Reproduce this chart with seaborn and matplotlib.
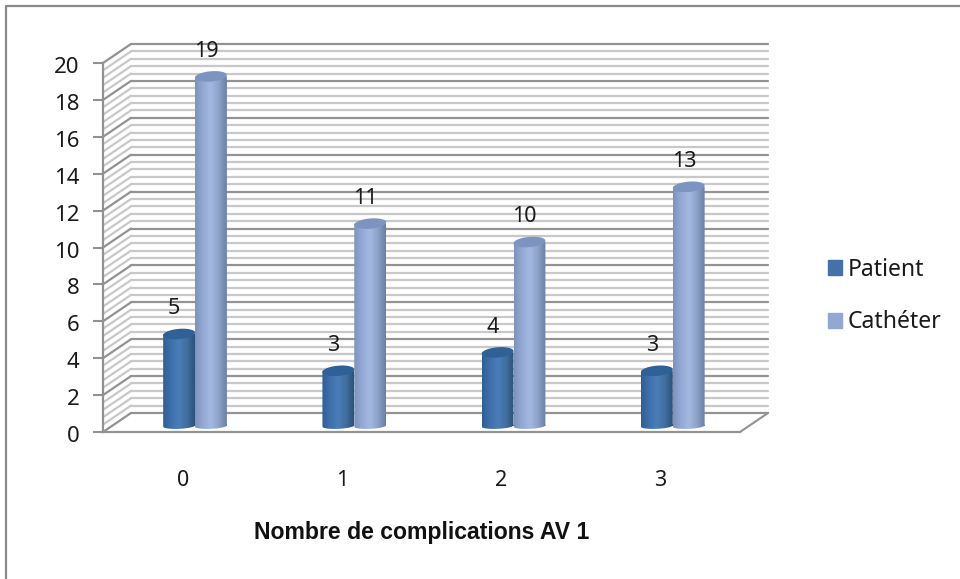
import numpy as np
import pandas as pd
import matplotlib
matplotlib.use('Agg')
import matplotlib.pyplot as plt
import seaborn as sns
from matplotlib.colors import LinearSegmentedColormap
from matplotlib.path import Path
from matplotlib.patches import Polygon
from matplotlib.transforms import ScaledTranslation

# data
categories = ['0', '1', '2', '3']
patient = [5, 3, 4, 3]
catheter = [19, 11, 10, 13]
series_names = ['Patient', 'Cathéter']
y_ticks = list(range(0, 21, 2))

df = pd.DataFrame({
    'cat': categories * 2,
    'val': patient + catheter,
    'serie': [series_names[0]] * 4 + [series_names[1]] * 4,
})

W, H = 960, 579
sns.set_theme(style='white')
plt.rcParams['font.family'] = ['Noto Sans', 'DejaVu Sans']
fig = plt.figure(figsize=(W / 100, H / 100), dpi=100, facecolor='white')


def px_axes(left, right, top, bottom):
    return fig.add_axes([left / W, 1 - bottom / H, (right - left) / W, (bottom - top) / H])


# outer frame of the picture
fig.add_artist(plt.Line2D([6 / W, 6 / W, 1], [0, 1 - 6 / H, 1 - 6 / H], color='#8a8a8a', lw=1.6))

# -------------------------
# walls and axis
# -------------------------
ax = px_axes(103, 740, 63, 432)
ax.set_xlim(-0.5, 3.5)
ax.set_ylim(0, 20)
dx, dy = 28 / 159.25, 19 / 18.45

for v in np.arange(0, 20.01, 0.4):
    major = abs(v / 2 - round(v / 2)) < 1e-6
    col = '#929292' if major else '#c8c8c8'
    lw = 1.6
    ax.plot([-0.5 + dx, 3.5 + dx], [v + dy, v + dy], color=col, lw=lw, clip_on=False, zorder=1)
    ax.plot([-0.5, -0.5 + dx], [v, v + dy], color=col, lw=lw, clip_on=False, zorder=1)
ax.plot([3.5, 3.5 + dx], [0, dy], color='#929292', lw=1.5, clip_on=False, zorder=1)

ax.set_xticks(range(4))
ax.set_xticklabels(categories)
ax.set_yticks(y_ticks)
ax.tick_params(axis='x', length=0, pad=27, labelsize=15.5, labelcolor='#1a1a1a')
ax.tick_params(axis='y', length=7, width=1.5, color='#929292', pad=10, labelsize=16,
               left=True, labelcolor='#1a1a1a')
# digits sit a bit high in this font
for lab in ax.get_yticklabels():
    lab.set_transform(lab.get_transform() + ScaledTranslation(0, -2 / 100, fig.dpi_scale_trans))
for s in ['top', 'right']:
    ax.spines[s].set_visible(False)
for s in ['left', 'bottom']:
    ax.spines[s].set_color('#929292')
    ax.spines[s].set_linewidth(1.6)
ax.set_xlabel('Nombre de complications AV 1', fontsize=16.6, fontweight='bold',
              fontfamily='Liberation Sans', color='#111111', labelpad=22)
ax.set_ylabel('')
ax.patch.set_alpha(0)

# -------------------------
# bars, sitting a little behind the front plane
# -------------------------
bx = px_axes(115.4, 752.4, 58, 426)
bx.patch.set_alpha(0)
palette = {'Patient': '#4472a8', 'Cathéter': '#92a8d0'}
sns.barplot(data=df, x='cat', y='val', hue='serie', order=categories, hue_order=series_names,
            palette=palette, width=0.4, gap=0, saturation=1, ax=bx, legend=False, zorder=3)

cmaps = [
    LinearSegmentedColormap.from_list('p', ['#2f5e94', '#3f70ab', '#4a7db9', '#41709f', '#2d5078']),
    LinearSegmentedColormap.from_list('c', ['#7d92b9', '#94aad6', '#a3b9e0', '#8ea2c8', '#6a7fa3']),
]
tops = ['#2f6096', '#7d94c0']
grad = np.linspace(0, 1, 128).reshape(1, -1)
r_y, tilt = 0.28, 0.07
t = np.linspace(0, 2 * np.pi, 80)

for cont, cm, top in zip(bx.containers, cmaps, tops):
    for b in cont:
        x0, w, h = b.get_x(), b.get_width(), b.get_height()
        b.set_visible(False)
        ex = x0 + w / 2 + w / 2 * np.cos(t)
        ey = r_y * np.sin(t) + tilt * np.cos(t)
        rect = Path([(x0, 0), (x0 + w, 0), (x0 + w, h), (x0, h), (x0, 0)])
        # flatter curve at the foot of the cylinder
        clip = Path.make_compound_path(rect, Path(np.c_[ex, ey * 0.55]))
        im = bx.imshow(grad, extent=(x0, x0 + w, -1, h), cmap=cm, aspect='auto', zorder=3,
                       interpolation='bilinear')
        im.set_clip_path(clip, transform=bx.transData)
        im.set_clip_box(fig.bbox)
        bx.add_patch(Polygon(np.c_[ex, h + ey], closed=True, color=top, lw=0, zorder=4))
    for ann in bx.bar_label(cont, padding=10.5, fontsize=15.5, color='#1a1a1a', zorder=5):
        ann.xyann = (ann.xyann[0] - 3.5, ann.xyann[1])

bx.set_xlim(-0.5, 3.5)
bx.set_ylim(0, 20)
bx.axis('off')

# -------------------------
# legend
# -------------------------
handles = [plt.Rectangle((0, 0), 1, 1, color=palette[n]) for n in series_names]
fig.legend(handles, series_names, loc='center left', bbox_to_anchor=(807 / W, 1 - 296 / H),
           frameon=False, fontsize=16.6, labelspacing=1.25, handlelength=0.6, handleheight=0.6,
           handletextpad=0.28, labelcolor='#1a1a1a')

fig.savefig('out.png', dpi=100)
